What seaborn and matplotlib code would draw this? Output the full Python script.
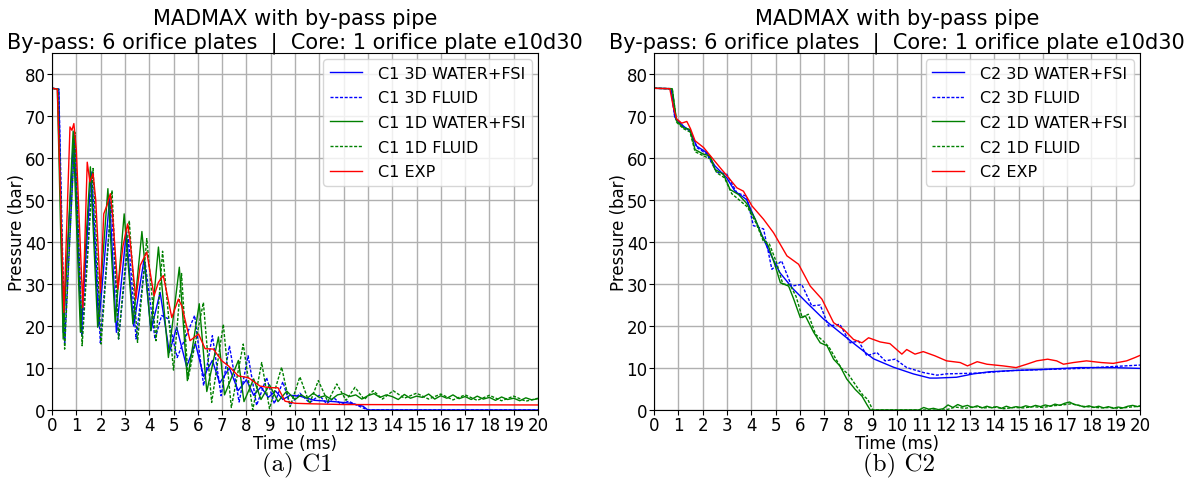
import matplotlib
matplotlib.use('Agg')
import matplotlib.pyplot as plt
import seaborn as sns

# ---------------- C1 (left panel) ----------------
c1_exp_t = [0, 0.22, 0.49, 0.74, 0.82, 0.9, 1.0, 1.27, 1.45, 1.56, 1.69, 1.8, 1.99, 2.13, 2.26, 2.4, 2.5,
            2.71, 2.92, 3.11, 3.2, 3.45, 3.63, 3.9, 4.2, 4.38, 4.58, 4.93, 5.2, 5.34, 5.68, 6.03, 6.3, 6.64,
            6.99, 7.26, 7.67, 8.08, 8.56, 8.97, 9.3, 9.59, 10.0, 10.5, 12.0, 20.0]
c1_exp_p = [76.6, 76.4, 23.2, 67.4, 66.6, 68.2, 62.0, 24.4, 59.0, 54.3, 56.3, 50.0, 28.0, 46.7, 48.7, 51.5, 46.0,
            28.8, 39.0, 44.3, 41.0, 26.4, 34.4, 37.6, 27.2, 30.4, 32.0, 22.0, 26.4, 24.8, 16.5, 18.1, 14.6, 14.5,
            11.7, 10.5, 8.1, 7.7, 5.7, 5.3, 5.3, 2.1, 1.6, 1.5, 1.3, 1.2]

c1_3d_fsi_t = [0, 0.28, 0.46, 0.9, 1.2, 1.61, 1.92, 2.37, 2.65, 3.06, 3.36, 3.79, 4.07, 4.45, 4.83, 5.13, 5.54,
               5.9, 6.24, 6.6, 6.9, 7.3, 7.66, 8.0, 8.3, 8.6, 8.9, 9.2, 9.5, 9.8, 10.2, 10.8, 11.6, 12.3, 12.8,
               13.0, 20.0]
c1_3d_fsi_p = [76.6, 76.4, 18.5, 66.2, 18.5, 56.7, 20.0, 50.3, 18.5, 42.4, 20.0, 36.0, 18.9, 28.0, 13.7, 19.7, 10.3,
               15.9, 8.0, 11.8, 6.4, 10.0, 4.6, 7.2, 3.5, 5.5, 3.0, 4.5, 2.5, 3.5, 3.3, 2.3, 2.0, 1.6, 0.9,
               0.0, 0.0]

c1_3d_fl_t = [0, 0.28, 0.52, 0.94, 1.24, 1.65, 1.99, 2.44, 2.74, 3.15, 3.46, 3.83, 4.24, 4.51, 4.79, 5.15, 5.87,
              6.24, 6.6, 6.96, 7.3, 7.7, 8.07, 8.42, 8.83, 9.15, 9.5, 9.8, 10.2, 10.6, 11.0, 11.3, 11.6, 11.9,
              12.2, 12.6, 13.0, 20.0]
c1_3d_fl_p = [76.6, 76.4, 16.0, 65.4, 17.7, 55.5, 16.0, 49.5, 16.9, 40.8, 16.9, 35.2, 16.9, 22.5, 21.7, 12.5, 22.5,
              5.8, 17.7, 3.4, 15.3, 1.9, 12.9, 1.1, 7.7, 1.5, 6.7, 1.2, 4.0, 1.7, 3.5, 1.5, 2.9, 1.3,
              2.1, 1.0, 0.0, 0.0]

c1_1d_fsi_t = [0, 0.22, 0.46, 0.87, 1.17, 1.58, 1.88, 2.3, 2.6, 2.97, 3.33, 3.7, 4.07, 4.38, 4.79, 5.24, 5.57,
               6.06, 6.37, 6.85, 7.1, 7.67, 7.9, 8.3, 8.6, 8.95, 9.3, 9.66,
               10.0, 10.25, 10.5, 10.75, 11.0, 11.25, 11.5, 11.75, 12.0, 12.25, 12.5, 12.75, 13.0, 13.25, 13.5,
               13.75, 14.0, 14.25, 14.5, 14.75, 15.0, 15.25, 15.5, 15.75, 16.0, 16.25, 16.5, 16.75, 17.0, 17.25,
               17.5, 17.75, 18.0, 18.25, 18.5, 18.75, 19.0, 19.25, 19.5, 19.75, 20.0]
c1_1d_fsi_p = [76.6, 76.4, 16.9, 66.4, 18.5, 57.9, 19.7, 52.7, 20.9, 46.7, 20.5, 42.5, 18.9, 38.8, 12.5, 34.0, 7.0,
               25.3, 4.4, 17.4, 3.6, 11.8, 2.0, 7.4, 2.5, 6.0, 2.0, 4.5,
               2.5, 3.6, 2.8, 4.0, 3.0, 3.4, 2.5, 3.6, 3.9, 3.2, 3.6, 2.6, 3.4, 3.9, 3.0,
               3.6, 3.2, 2.5, 3.7, 2.8, 3.3, 3.0, 3.8, 2.6, 3.4, 2.8, 3.6, 2.7, 3.2, 2.5,
               3.3, 2.6, 3.0, 2.3, 3.1, 2.5, 2.8, 2.2, 2.9, 2.4, 2.7]

c1_1d_fl_t = [0, 0.25, 0.52, 0.94, 1.24, 1.69, 2.02, 2.47, 2.74, 3.18, 3.52, 3.9, 4.28, 4.55, 5.0, 5.33, 5.6,
              6.23, 6.57, 7.05, 7.38, 7.87, 8.26, 8.63, 8.95, 9.45, 9.8, 10.2, 10.6, 10.96, 11.35, 11.72, 12.1,
              12.47, 12.85, 13.22, 13.6, 14.04, 14.5, 15.0, 15.5, 16.0, 16.5, 17.0, 17.5, 18.0, 18.5, 19.0,
              19.5, 20.0]
c1_1d_fl_p = [76.6, 76.4, 14.5, 66.1, 15.3, 57.5, 15.7, 52.3, 16.9, 45.1, 16.1, 40.8, 16.5, 37.8, 9.5, 32.5, 7.4,
              25.6, 1.8, 20.4, 0.6, 15.7, 0.0, 11.3, 0.3, 10.2, 0.8, 7.9, 1.5, 7.0, 2.0, 6.2, 2.3,
              5.4, 2.5, 4.6, 2.6, 4.6, 2.8, 4.0, 2.6, 3.8, 2.4, 3.6, 2.3, 3.5, 2.2, 3.3,
              2.1, 2.8]

# ---------------- C2 (right panel) ----------------
c2_exp_t = [0, 0.65, 0.8, 0.93, 1.14, 1.35, 1.5, 1.69, 2.04, 2.38, 2.72, 3.07, 3.41, 3.68, 4.03, 4.51, 4.92,
            5.47, 5.95, 6.43, 6.91, 7.39, 7.8, 8.21, 8.56, 8.83, 9.31, 9.71, 10.2, 10.4, 10.74, 11.08, 11.56,
            12.04, 12.6, 12.9, 13.3, 13.7, 14.37, 14.9, 15.34, 15.75, 16.2, 16.57, 16.85, 17.26, 17.8, 18.4,
            18.9, 19.45, 19.8, 20.0]
c2_exp_p = [76.6, 76.5, 72.0, 69.3, 68.3, 68.7, 67.0, 64.1, 62.5, 60.1, 57.7, 55.3, 52.9, 52.1, 48.6, 45.4, 42.2,
            36.7, 34.7, 29.5, 26.4, 20.8, 19.2, 16.8, 16.0, 17.2, 16.2, 15.8, 13.3, 14.4, 13.3, 13.9, 12.9,
            11.7, 11.3, 10.5, 11.5, 10.9, 10.5, 10.1, 10.9, 11.7, 12.1, 11.7, 10.9, 11.3, 11.7, 11.3,
            11.1, 11.7, 12.5, 13.0]

c2_3d_fsi_t = [0, 0.7, 0.86, 1.21, 1.48, 1.76, 2.17, 2.51, 2.99, 3.33, 3.81, 4.22, 4.7, 5.18, 5.73, 6.28, 6.97,
               7.65, 8.34, 9.03, 9.85, 10.67, 11.35, 11.63, 12.45, 13.14, 13.8, 14.79, 16.16, 17.5, 18.9, 20.0]
c2_3d_fsi_p = [76.6, 76.5, 69.7, 67.6, 66.4, 62.8, 61.3, 58.1, 55.3, 52.1, 50.1, 44.6, 38.2, 32.7, 28.8, 25.6, 21.7,
               18.5, 15.3, 12.2, 10.2, 8.6, 7.6, 7.6, 7.8, 8.6, 9.1, 9.4, 9.7, 10.1, 10.1, 9.9]

c2_3d_fl_t = [0, 0.7, 0.86, 1.21, 1.48, 1.76, 2.17, 2.58, 2.99, 3.41, 3.81, 4.09, 4.51, 4.85, 5.25, 5.66, 6.08,
              6.49, 6.84, 7.18, 7.65, 8.07, 8.42, 8.76, 9.17, 9.51, 9.93, 10.4, 11.1, 11.64, 12.04, 13.4, 14.79,
              17.5, 20.0]
c2_3d_fl_p = [76.6, 76.5, 69.5, 67.4, 66.6, 62.5, 61.0, 56.6, 56.2, 51.7, 50.9, 43.9, 43.1, 33.5, 35.5, 29.5, 29.9,
              24.8, 25.0, 20.0, 20.4, 16.0, 16.4, 12.9, 13.7, 11.7, 12.1, 10.1, 8.9, 8.3, 8.6, 8.8, 9.4,
              9.9, 10.7]

c2_1d_fsi_t = [0, 0.75, 0.93, 1.21, 1.48, 1.69, 2.04, 2.31, 2.51, 2.86, 3.13, 3.48, 3.81, 4.17, 4.44, 4.71, 4.99,
               5.2, 5.54, 5.75, 6.02, 6.23, 6.57, 6.84, 7.12, 7.39, 7.65, 7.93, 8.28, 8.56, 8.76, 8.9, 10.9,
               11.1, 11.3, 11.5, 11.7, 11.9, 12.1, 12.3, 12.5, 12.7, 12.9, 13.1, 13.3, 13.5, 13.7, 13.9, 14.1,
               14.3, 14.5, 14.7, 14.9, 15.1, 15.3, 15.5, 15.7, 15.9, 16.1, 16.3, 16.5, 16.7, 16.9, 17.1, 17.3,
               17.5, 17.7, 17.9, 18.1, 18.3, 18.5, 18.7, 18.9, 19.1, 19.3, 19.5, 19.7, 19.9, 20.0]
c2_1d_fsi_p = [76.6, 76.5, 68.8, 67.2, 66.8, 62.0, 60.9, 60.5, 57.3, 56.1, 52.5, 51.3, 49.2, 45.4, 41.4, 39.0, 34.3,
               30.3, 29.5, 26.4, 22.0, 22.4, 18.5, 16.0, 15.3, 12.1, 10.5, 7.4, 4.9, 3.3, 1.3, 0.0, 0.0,
               0.6, 0.2, 0.4, 0.1, 0.3, 1.2, 0.6, 1.3, 0.8, 1.1, 0.6, 1.0, 0.5, 0.9, 0.5, 0.8,
               0.4, 0.9, 0.5, 0.8, 0.6, 1.0, 0.7, 1.1, 0.8, 1.2, 0.9, 1.4, 1.1, 1.6, 1.9, 1.3,
               1.1, 0.7, 1.0, 0.6, 0.9, 0.5, 0.8, 0.4, 0.7, 0.5, 0.9, 1.1, 0.8, 1.0]

c2_1d_fl_t = [0, 0.75, 0.93, 1.21, 1.48, 1.69, 2.04, 2.31, 2.58, 2.9, 3.2, 3.55, 3.85, 4.2, 4.5, 4.75, 5.05,
              5.3, 5.6, 5.85, 6.1, 6.35, 6.65, 6.95, 7.2, 7.45, 7.7, 8.0, 8.35, 8.6, 8.8, 9.0, 12.0,
              12.4, 12.8, 13.2, 13.6, 14.0, 14.4, 14.8, 15.2, 15.6, 16.0, 16.4, 16.8, 17.2, 17.6, 18.0,
              18.4, 18.8, 19.2, 19.6, 20.0]
c2_1d_fl_p = [76.6, 76.5, 68.5, 67.0, 66.2, 61.5, 60.5, 59.8, 56.5, 55.3, 51.5, 49.8, 48.3, 44.5, 40.2, 39.5, 35.0,
              30.0, 29.8, 27.0, 22.0, 22.8, 18.0, 16.5, 15.0, 12.5, 10.0, 8.5, 5.5, 3.5, 2.5, 0.0, 0.0,
              0.7, 0.4, 0.8, 0.5, 0.7, 0.3, 0.6, 0.5, 0.8, 0.6, 1.0, 1.2, 1.5, 0.9, 0.7,
              0.5, 0.6, 0.4, 0.7, 0.9]

x_ticks = list(range(0, 21))
y_ticks = list(range(0, 81, 10))
title = "MADMAX with by-pass pipe\nBy-pass: 6 orifice plates  |  Core: 1 orifice plate e10d30"

dashed = (0, (2.2, 1.2))
panels = [
    ("C1", "(a) C1", [
        (c1_3d_fsi_t, c1_3d_fsi_p, "3D WATER+FSI", "blue", "-"),
        (c1_3d_fl_t, c1_3d_fl_p, "3D FLUID", "blue", dashed),
        (c1_1d_fsi_t, c1_1d_fsi_p, "1D WATER+FSI", "green", "-"),
        (c1_1d_fl_t, c1_1d_fl_p, "1D FLUID", "green", dashed),
        (c1_exp_t, c1_exp_p, "EXP", "red", "-"),
    ]),
    ("C2", "(b) C2", [
        (c2_3d_fsi_t, c2_3d_fsi_p, "3D WATER+FSI", "blue", "-"),
        (c2_3d_fl_t, c2_3d_fl_p, "3D FLUID", "blue", dashed),
        (c2_1d_fsi_t, c2_1d_fsi_p, "1D WATER+FSI", "green", "-"),
        (c2_1d_fl_t, c2_1d_fl_p, "1D FLUID", "green", dashed),
        (c2_exp_t, c2_exp_p, "EXP", "red", "-"),
    ]),
]

fig = plt.figure(figsize=(11.99, 4.85), dpi=100)
lefts = [52 / 1199, 654 / 1199]

for (name, caption, series), left in zip(panels, lefts):
    ax = fig.add_axes([left, 74 / 485, 486 / 1199, 357 / 485])
    for t, p, lab, col, ls in series:
        sns.lineplot(x=t, y=p, ax=ax, color=col, linestyle=ls, linewidth=1.0,
                     label=f"{name} {lab}", estimator=None, sort=False)
    ax.set_xlim(0, 20)
    ax.set_ylim(0, 85)
    ax.set_xticks(x_ticks)
    ax.set_yticks(y_ticks)
    ax.tick_params(labelsize=12, pad=1)
    ax.grid(True, color='#b0b0b0', linewidth=1.0)
    ax.set_xlabel("Time (ms)", fontsize=12, labelpad=0)
    ax.set_ylabel("Pressure (bar)", fontsize=12, labelpad=-1)
    ax.set_title(title, fontsize=15, pad=3)
    ax.legend(loc='upper right', fontsize=11.5, borderaxespad=0.4, handletextpad=1.0,
              labelspacing=0.6)
    fig.text(left + 245 / 1199, 20 / 485, caption, fontsize=18, family='cmr10',
             ha='center', va='center')

fig.savefig("out.png", dpi=100)
